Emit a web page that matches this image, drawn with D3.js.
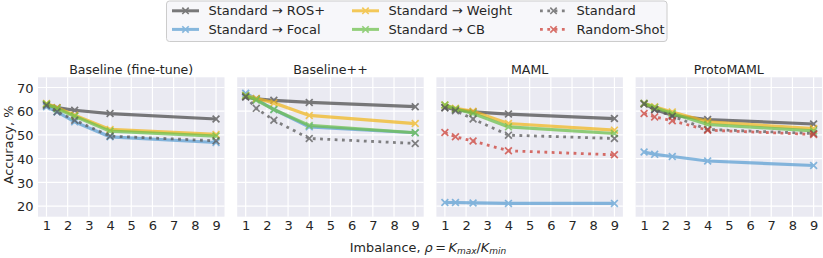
<!DOCTYPE html>
<html><head><meta charset="utf-8">
<script src="https://cdn.jsdelivr.net/npm/d3@7"></script>
<style>
html,body{margin:0;padding:0;background:#fff;}
svg text{font-family:"DejaVu Sans",sans-serif;fill:#262626;}
</style></head>
<body><svg id="c" width="823" height="258"></svg>
<script>
// ---- data ----
const ratios = [1, 1.5, 2.33, 4, 9];
const panelTitles = ["Baseline (fine-tune)", "Baseline++", "MAML", "ProtoMAML"];
const xTicks = [1, 2, 3, 4, 5, 6, 7, 8, 9];
const yTicks = [20, 30, 40, 50, 60, 70];
const seriesNames = ["Standard \u2192 ROS+", "Standard \u2192 Focal", "Standard \u2192 Weight", "Standard \u2192 CB", "Standard", "Random-Shot"];
const rosPlus = [[62.8, 61.5, 60.4, 59.0, 56.7], [66.0, 65.2, 64.6, 63.7, 61.9], [61.6, 60.7, 59.7, 58.8, 56.9], [63.3, 60.7, 58.3, 56.5, 54.6]];
const focal = [[61.9, 59.7, 55.5, 49.2, 46.8], [67.6, 65.0, 60.7, 53.4, 50.9], [21.5, 21.5, 21.3, 21.1, 21.1], [42.8, 41.8, 40.9, 39.0, 37.1]];
const weight = [[63.3, 61.5, 58.3, 52.3, 50.2], [66.6, 65.4, 63.5, 58.2, 54.8], [62.6, 61.2, 60.0, 54.8, 52.0], [63.3, 61.9, 59.7, 55.5, 52.7]];
const cb = [[63.0, 61.0, 57.9, 51.6, 49.5], [66.6, 64.7, 60.7, 54.0, 50.9], [62.6, 60.9, 59.0, 53.4, 50.6], [63.3, 61.6, 59.0, 54.4, 51.7]];
const standard = [[62.4, 59.8, 56.2, 49.5, 47.5], [66.1, 61.2, 56.2, 48.5, 46.4], [61.4, 60.2, 56.7, 49.9, 48.5], [63.0, 60.7, 57.9, 52.3, 50.6]];
const randomShot = [null, null, [51.0, 49.2, 47.4, 43.3, 41.6], [59.0, 57.6, 56.0, 52.0, 50.2]];

const allSeries = [rosPlus, focal, weight, cb, standard, randomShot];
const colors = ["#4a4a4a", "#5b9fd3", "#f2b71c", "#6cc04a", "#555555", "#cc3a30"];
const dotted = [false, false, false, false, true, true];

// ---- layout ----
const svg = d3.select("#c");
const pTop = 77.3, pBottom = 216.7, pW = 186.5, pStep = 199.2, pLeft0 = 38;
const y = d3.scaleLinear().domain([15.5, 74.3]).range([pBottom, pTop]);

panelTitles.forEach((title, pi) => {
  const left = pLeft0 + pi * pStep;
  const x = d3.scaleLinear().domain([0.6, 9.4]).range([left, left + pW]);
  const g = svg.append("g");
  g.append("rect").attr("x", left).attr("y", pTop).attr("width", pW).attr("height", pBottom - pTop).attr("fill", "#eaeaf2");
  // grid
  g.selectAll(".gx").data(xTicks).enter().append("line")
    .attr("x1", d => x(d)).attr("x2", d => x(d)).attr("y1", pTop).attr("y2", pBottom)
    .attr("stroke", "#fff").attr("stroke-width", 1.2);
  g.selectAll(".gy").data(yTicks).enter().append("line")
    .attr("y1", d => y(d)).attr("y2", d => y(d)).attr("x1", left).attr("x2", left + pW)
    .attr("stroke", "#fff").attr("stroke-width", 1.2);
  // x axis
  const xa = d3.axisBottom(x).tickValues(xTicks).tickSize(0).tickPadding(0).tickFormat(d3.format("d"));
  const xg = g.append("g").attr("transform", `translate(0,${pBottom})`).call(xa);
  xg.select(".domain").remove();
  xg.selectAll("text").attr("dy", null).attr("y", 13.5).style("font-size", "13px").attr("fill", "#262626");
  if (pi === 0) {
    const ya = d3.axisLeft(y).tickValues(yTicks).tickSize(0).tickPadding(0);
    const yg = g.append("g").attr("transform", `translate(${left - 4.5},0)`).call(ya);
    yg.select(".domain").remove();
    yg.selectAll("text").attr("dy", "0.36em").attr("x", 0).style("font-size", "13px").attr("fill", "#262626");
  }
  g.append("text").attr("x", left + pW / 2).attr("y", 74).attr("text-anchor", "middle").style("font-size", "12.6px").text(title);

  const line = d3.line().x((d, i) => x(ratios[i])).y(d => y(d));
  allSeries.forEach((s, si) => {
    const vals = s[pi];
    if (!vals) return;
    const sg = g.append("g").attr("opacity", 0.72);
    sg.append("path").attr("d", line(vals)).attr("fill", "none").attr("stroke", colors[si])
      .attr("stroke-width", dotted[si] ? 2.8 : 3.2).attr("stroke-dasharray", dotted[si] ? "2.8,4.5" : null);
    vals.forEach((v, i) => {
      const cx = x(ratios[i]), cy = y(v), r = 3.4;
      sg.append("path").attr("d", `M${cx - r},${cy - r}L${cx + r},${cy + r}M${cx - r},${cy + r}L${cx + r},${cy - r}`)
        .attr("stroke", colors[si]).attr("stroke-width", 1.7).attr("fill", "none");
    });
  });
});

// axis labels
svg.append("text").attr("transform", `translate(13,${(pTop + pBottom) / 2 - 2}) rotate(-90)`).attr("text-anchor", "middle")
  .style("font-size", "12.8px").text("Accuracy, %");
const xl = svg.append("text").attr("x", 428).attr("y", 252).attr("text-anchor", "middle").style("font-size", "12.8px");
xl.append("tspan").text("Imbalance, ");
xl.append("tspan").style("font-style", "italic").text("\u03c1");
xl.append("tspan").text("\u2009=\u2009");
xl.append("tspan").style("font-style", "italic").text("K");
xl.append("tspan").attr("baseline-shift", "-25%").style("font-size", "9px").style("font-style", "italic").text("max");
xl.append("tspan").text("/");
xl.append("tspan").style("font-style", "italic").text("K");
xl.append("tspan").attr("baseline-shift", "-25%").style("font-size", "9px").style("font-style", "italic").text("min");

// legend
const lg = svg.append("g");
lg.append("rect").attr("x", 166.5).attr("y", 1).attr("width", 500.5).attr("height", 40.5).attr("rx", 3)
  .attr("fill", "#f7f7fa").attr("stroke", "#cccccc").attr("stroke-width", 1);
const colX = [172, 352, 540];
const rowY = [10.8, 29.4];
seriesNames.forEach((name, si) => {
  const col = Math.floor(si / 2), row = si % 2;
  const lx = colX[col], ly = rowY[row];
  const hg = lg.append("g").attr("opacity", 0.72);
  hg.append("line").attr("x1", lx).attr("x2", lx + 27).attr("y1", ly).attr("y2", ly)
    .attr("stroke", colors[si]).attr("stroke-width", dotted[si] ? 2.8 : 3).attr("stroke-dasharray", dotted[si] ? "2.8,4.5" : null);
  const cx = lx + 13.5, r = 3.2;
  hg.append("path").attr("d", `M${cx - r},${ly - r}L${cx + r},${ly + r}M${cx - r},${ly + r}L${cx + r},${ly - r}`)
    .attr("stroke", colors[si]).attr("stroke-width", 1.6);
  lg.append("text").attr("x", lx + 36.5).attr("y", ly).attr("dy", "0.36em").style("font-size", "13px").text(name);
});
</script></body></html>
